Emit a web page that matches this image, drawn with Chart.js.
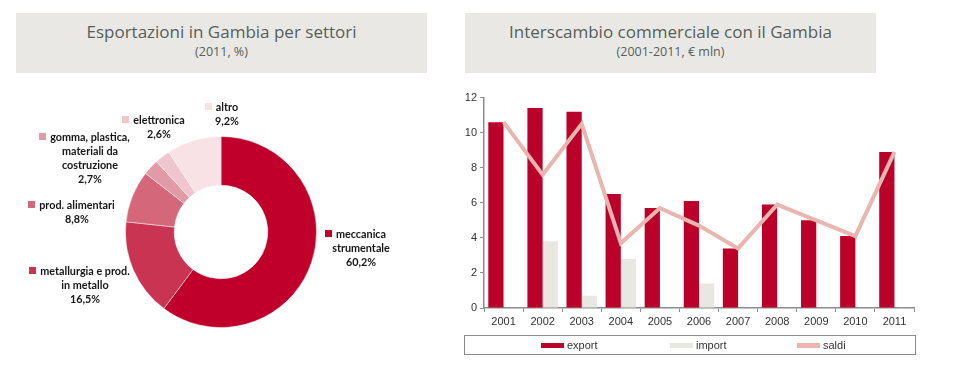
<!DOCTYPE html>
<html>
<head>
<meta charset="utf-8">
<script src="https://cdn.jsdelivr.net/npm/chart.js@4/dist/chart.umd.min.js"></script>
<style>
body{margin:0;background:#fff;width:962px;height:365px;position:relative;overflow:hidden;font-family:'Liberation Sans',Arial,sans-serif}
.head{position:absolute;top:13px;height:60px;width:411px;background:#e9e8e4;color:#56605a;text-align:center;font-family:'Open Sans',sans-serif}
.head .t{font-size:17px;line-height:20px;margin-top:9px}
.head .s{font-size:12.5px;line-height:14px;margin-top:3px}
.box{position:absolute}
.lbl{position:absolute;width:200px;text-align:center;font-family:Lato,sans-serif;font-weight:bold;font-size:10.8px;line-height:14px;color:#161616}
.lbl .first{position:relative}
.lbl .sq{position:absolute;left:-11px;top:3px;width:7px;height:7px}
#legend{position:absolute;left:464px;top:335px;width:450px;height:18px;border:1px solid #8a8a8a;font-size:11px;color:#333}
#legend .it{position:absolute;top:2px;line-height:14px}
#legend .sw{display:inline-block;width:23px;height:5px;vertical-align:middle;margin-right:3px;margin-top:-2px}
</style>
</head>
<body>
<div class="head" style="left:16px"><div class="t">Esportazioni in Gambia per settori</div><div class="s">(2011, %)</div></div>
<div class="head" style="left:465px"><div class="t">Interscambio commerciale con il Gambia</div><div class="s">(2001-2011, € mln)</div></div>

<div class="box" style="left:125px;top:136px;width:192px;height:192px"><canvas id="pie"></canvas></div>
<div id="pieLabels"></div>

<div class="box" style="left:450px;top:88px;width:470px;height:245px"><canvas id="bars"></canvas></div>
<div id="legend"></div>

<script>
// settori 2011, %
var sectors = ['meccanica strumentale', 'metallurgia e prod. in metallo', 'prod. alimentari', 'gomma, plastica, materiali da costruzione', 'elettronica', 'altro'];
var shares = [60.2, 16.5, 8.8, 2.7, 2.6, 9.2];
var sectorColors = ['#c0002b', '#c93453', '#d5677b', '#e39aa7', '#efc6cd', '#f8e2e6'];

// interscambio 2001-2011, € mln
var years = ['2001','2002','2003','2004','2005','2006','2007','2008','2009','2010','2011'];
var exportVals = [10.6, 11.4, 11.2, 6.5, 5.7, 6.1, 3.4, 5.9, 5.0, 4.1, 8.9];
var importVals = [0, 3.8, 0.7, 2.8, 0, 1.4, 0, 0, 0, 0, 0];
var saldiVals = [10.6, 7.6, 10.5, 3.7, 5.7, 4.7, 3.4, 5.9, 5.0, 4.1, 8.9];
var yTicks = [0, 2, 4, 6, 8, 10, 12];

// label text lines and where they sit (center x, first line center y)
var labelLines = [
  ['meccanica', 'strumentale'],
  ['metallurgia e prod.', 'in metallo'],
  ['prod. alimentari'],
  ['gomma, plastica,', 'materiali da', 'costruzione'],
  ['elettronica'],
  ['altro']
];
var labelPos = [[361, 234], [85, 271], [77, 205], [90, 137], [159, 120], [227, 107]];

var html = '';
for (var i = 0; i < sectors.length; i++) {
  var lines = labelLines[i];
  html += '<div class="lbl" style="left:' + (labelPos[i][0] - 100) + 'px;top:' + (labelPos[i][1] - 7) + 'px">';
  html += '<span class="first"><span class="sq" style="background:' + sectorColors[i] + '"></span>' + lines[0] + '</span><br>';
  for (var j = 1; j < lines.length; j++) html += lines[j] + '<br>';
  html += shares[i].toFixed(1).replace('.', ',') + '%</div>';
}
document.getElementById('pieLabels').innerHTML = html;

new Chart(document.getElementById('pie'), {
  type: 'doughnut',
  data: {
    labels: sectors,
    datasets: [{
      data: shares,
      backgroundColor: sectorColors,
      borderColor: 'rgba(255,255,255,0.45)',
      borderWidth: 1
    }]
  },
  options: {
    responsive: true,
    maintainAspectRatio: false,
    animation: false,
    cutout: '49%',
    plugins: { legend: { display: false }, tooltip: { enabled: false } }
  }
});

var axisColor = '#8c8c8c';
var tickFont = { family: "'Liberation Sans', Arial, sans-serif", size: 11 };

var barChart = new Chart(document.getElementById('bars'), {
  type: 'bar',
  data: {
    labels: years,
    datasets: [
      { type: 'line', label: 'saldi', data: saldiVals, borderColor: '#e9b5af', backgroundColor: '#e9b5af', borderWidth: 4, pointRadius: 0, tension: 0, order: 0 },
      { label: 'export', data: exportVals, backgroundColor: '#bb0029', categoryPercentage: 0.78, barPercentage: 1, order: 1 },
      { label: 'import', data: importVals, backgroundColor: '#e9e7e2', categoryPercentage: 0.78, barPercentage: 1, order: 1 }
    ]
  },
  options: {
    responsive: true,
    maintainAspectRatio: false,
    animation: false,
    layout: { padding: { top: 9, right: 6, left: 0, bottom: 0 } },
    plugins: { legend: { display: false }, tooltip: { enabled: false } },
    scales: {
      x: {
        grid: { drawOnChartArea: false, drawTicks: true, tickLength: 4, color: axisColor, offset: true },
        border: { color: axisColor, width: 1.5 },
        ticks: { color: '#333', font: tickFont, padding: 3, maxRotation: 0 },
        afterFit: function (s) { s.height = 25; }
      },
      y: {
        min: 0, max: 12,
        afterBuildTicks: function (s) { s.ticks = yTicks.map(function (v) { return { value: v }; }); },
        grid: { drawOnChartArea: false, drawTicks: true, tickLength: 4, color: axisColor },
        border: { color: axisColor, width: 1.5 },
        ticks: { color: '#333', font: tickFont, padding: 3 },
        afterFit: function (s) { s.width = 34; }
      }
    }
  }
});

// legend in a framed box, built from the datasets
var legendX = [76, 205, 332];
var order = ['export', 'import', 'saldi'];
var lh = '';
order.forEach(function (name, k) {
  var ds = barChart.data.datasets.filter(function (d) { return d.label === name; })[0];
  var col = ds.type === 'line' ? ds.borderColor : ds.backgroundColor;
  lh += '<span class="it" style="left:' + legendX[k] + 'px"><span class="sw" style="background:' + col + '"></span>' + name + '</span>';
});
document.getElementById('legend').innerHTML = lh;
</script>
</body>
</html>
